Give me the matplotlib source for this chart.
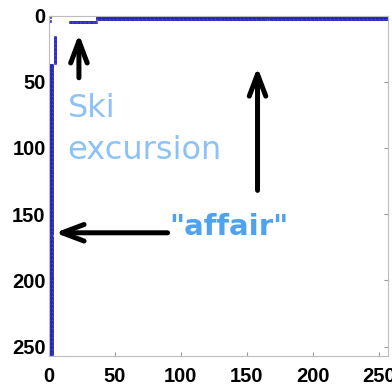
import numpy as np
import matplotlib.pyplot as plt

# sparsity pattern of a 256 x 256 contact matrix
n = 256
hub_idx = [1, 2, 3]            # densely connected hub rows/cols
hub_start = 37                  # hub links begin after this index
hub_missing = [166]             # the "affair" entry (no link)
ski_idx = 5                     # ski excursion row/col
ski_span = [16, 36]             # extent of ski excursion links
corner = [(1, 1), (4, 1)]       # isolated links near origin

rows, cols = [], []
for h in hub_idx:
    for j in range(hub_start, n + 1):
        if j in hub_missing:
            continue
        rows += [h, j]
        cols += [j, h]
for j in range(ski_span[0], ski_span[1] + 1):
    rows += [ski_idx, j]
    cols += [j, ski_idx]
for r, c in corner:
    rows.append(r)
    cols.append(c)

fig = plt.figure(figsize=(3.92, 3.87), dpi=100)
ax = fig.add_axes([48.5 / 392, 1 - 356 / 387, 340 / 392, 340.5 / 387])

ax.plot(cols, rows, linestyle='none', marker='s', markersize=1.8,
        markerfacecolor='#4848e0', markeredgecolor='#1c1ca8', markeredgewidth=0.4)

ax.set_xlim(0, n + 1)
ax.set_ylim(n + 1, 0)
ax.set_xticks(range(0, 251, 50))
ax.set_yticks(range(0, 251, 50))
for s in ax.spines.values():
    s.set_color('#bdbdbd')
    s.set_linewidth(0.8)
ax.tick_params(direction='in', length=3, color='#999999', top=True, right=True,
               labelsize=14.5)
ax.tick_params(axis='x', pad=8)
ax.tick_params(axis='y', pad=2)
for lab in ax.get_xticklabels() + ax.get_yticklabels():
    lab.set_fontweight('bold')
    lab.set_family('Liberation Sans')

arrow = dict(arrowstyle='->,head_length=0.45,head_width=0.17', mutation_scale=35,
             lw=3.6, color='black', shrinkA=0, shrinkB=0)
ax.annotate('', xy=(23, 14), xytext=(23, 47), arrowprops=arrow)
ax.annotate('', xy=(158, 39), xytext=(158, 132), arrowprops=arrow)
ax.annotate('', xy=(5, 164), xytext=(90, 164), arrowprops=arrow)

ax.text(14.5, 108, 'Ski\nexcursion', color='#8cc2f7', fontsize=23,
        family='DejaVu Sans', ha='left', va='baseline', linespacing=1.45)
ax.text(91, 166, '"affair"', color='#4ea2f0', fontsize=21, fontweight='bold',
        family='DejaVu Sans', ha='left', va='baseline')

fig.savefig('out.png', dpi=100)
